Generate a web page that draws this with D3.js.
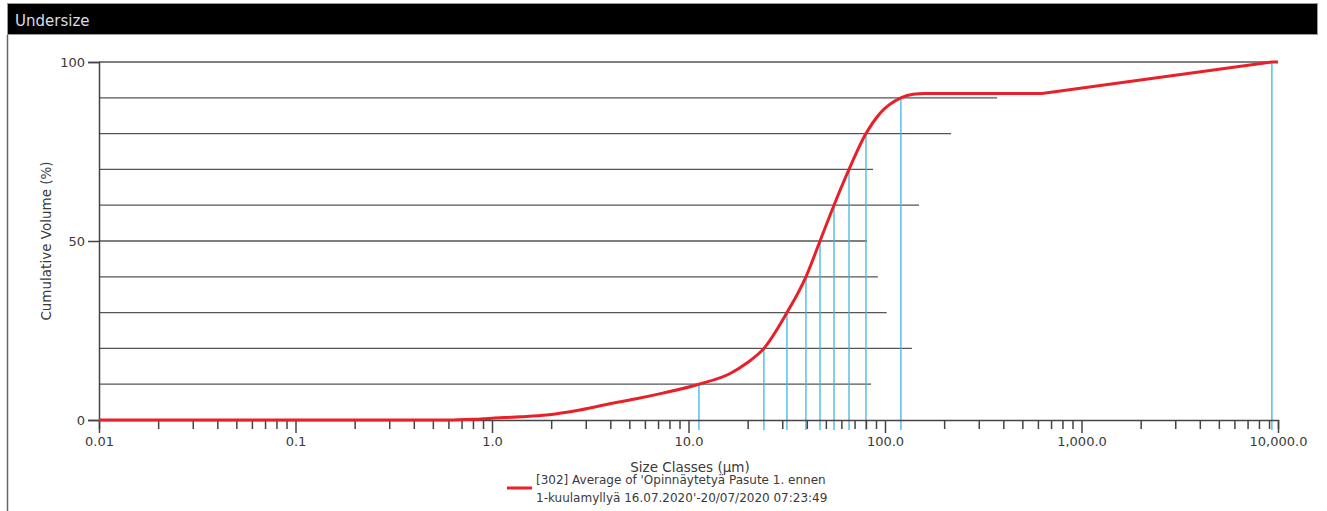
<!DOCTYPE html>
<html>
<head>
<meta charset="utf-8">
<script src="https://cdn.jsdelivr.net/npm/d3@7"></script>
<style>
  body { margin: 0; background: #fff; }
  text { font-family: "DejaVu Sans", sans-serif; fill: #3a3a3a; }
</style>
</head>
<body>
<script>
// Cumulative undersize curve (size in um, volume %)
var sizes  = [0.01, 0.1, 0.6, 0.8, 1.0, 1.4, 1.9, 2.8, 4.1, 5.5, 7.4, 11.3, 16.3, 19.9, 24.2, 31.7, 39.6, 46.7, 55.0, 65.6, 80.0, 94.4, 120.5, 138.8, 160, 629, 9310, 10000];
var volume = [0,    0,   0,   0.2, 0.5, 0.9, 1.4, 2.8, 4.7, 6.0, 7.5, 10,   13.0, 16.0, 20,   30,   40,   50,   60,   70,   80,   85.7, 90,    91.0,  91.2, 91.2, 100, 100];

// Percentile markers: level, size where curve crosses it, end of its leader line (um)
var pctLevels = [10, 20, 30, 40, 50, 60, 70, 80, 90, 100];
var pctSizes  = [11.3, 24.2, 31.7, 39.6, 46.7, 55.0, 65.6, 80.0, 120.5, 9310];
var pctEnds   = [85, 137, 102, 92, 81, 149, 87, 217, 372, 10000];

var xMajor = [0.01, 0.1, 1, 10, 100, 1000, 10000];
var xTickLabels = ["0.01", "0.1", "1.0", "10.0", "100.0", "1,000.0", "10,000.0"];
var yTicks = [0, 50, 100];

var titleText = "Undersize";
var xTitle = "Size Classes (\u00b5m)";
var yTitle = "Cumulative Volume (%)";
var legendLines = ["[302] Average of 'Opinn\u00e4ytety\u00e4 Pasute 1. ennen",
                   "1-kuulamylly\u00e4 16.07.2020'-20/07/2020 07:23:49"];

var svgWidth = 1327;
var svgHeight = 511;

var margin = { top: 62, right: 49, bottom: 91, left: 99 };
var chartWidth = svgWidth - margin.left - margin.right;
var chartHeight = svgHeight - margin.top - margin.bottom;

var svg = d3.select("body")
  .append("svg")
  .attr("width", svgWidth)
  .attr("height", svgHeight);

// title bar and frame
svg.append("rect")
  .attr("x", 7.5).attr("y", 3.5)
  .attr("width", 1310).attr("height", 31)
  .attr("fill", "#000")
  .attr("stroke", "#999");
svg.append("line")
  .attr("x1", 7.5).attr("x2", 7.5)
  .attr("y1", 35).attr("y2", svgHeight)
  .attr("stroke", "#666").attr("stroke-width", 1.5);
svg.append("text")
  .attr("x", 15).attr("y", 26)
  .style("font-size", "15px")
  .style("fill", "#d8dce4")
  .text(titleText);

var x = d3.scaleLog().domain([0.01, 10000]).range([0, chartWidth]);
var y = d3.scaleLinear().domain([0, 100]).range([chartHeight, 0]);

var g = svg.append("g")
  .attr("transform", "translate(" + margin.left + "," + margin.top + ")");

// leader lines for each percentile
g.selectAll(".leader")
  .data(pctLevels)
  .enter()
  .append("line")
  .attr("class", "leader")
  .attr("x1", 0)
  .attr("x2", function(d, i) { return x(pctEnds[i]); })
  .attr("y1", function(d) { return y(d); })
  .attr("y2", function(d) { return y(d); })
  .attr("stroke", "#555")
  .attr("stroke-width", 1.3);

// drop lines down to the size axis
g.selectAll(".drop")
  .data(pctLevels)
  .enter()
  .append("line")
  .attr("class", "drop")
  .attr("x1", function(d, i) { return x(pctSizes[i]); })
  .attr("x2", function(d, i) { return x(pctSizes[i]); })
  .attr("y1", function(d) { return y(d); })
  .attr("y2", chartHeight + 10)
  .attr("stroke", "#3db5e8")
  .attr("stroke-width", 1.3);

// axes
var minorTicks = [];
xMajor.forEach(function(m, i) {
  if (i < xMajor.length - 1) {
    for (var k = 1; k < 10; k++) minorTicks.push(m * k);
  }
});
minorTicks.push(10000);

function isMajor(d) {
  return xMajor.some(function(m) { return Math.abs(m - d) / m < 1e-6; });
}

var xAxis = d3.axisBottom(x)
  .tickValues(minorTicks)
  .tickSizeOuter(0)
  .tickSize(9)
  .tickFormat(function(d) {
    var i = xMajor.findIndex(function(m) { return Math.abs(m - d) / m < 1e-6; });
    return i >= 0 ? xTickLabels[i] : "";
  });

var xg = g.append("g")
  .attr("transform", "translate(0," + chartHeight + ")")
  .call(xAxis);
xg.selectAll(".tick line")
  .attr("y2", function(d) { return isMajor(d) ? 13 : 9; });
xg.selectAll(".tick text").attr("y", 17).style("font-size", "13px");

var yAxis = d3.axisLeft(y)
  .tickValues(yTicks)
  .tickSizeOuter(0)
  .tickSize(11)
  .tickPadding(3);
var yg = g.append("g").call(yAxis);
yg.selectAll(".tick text").style("font-size", "13px");

[xg, yg].forEach(function(a) {
  a.selectAll("path, line").attr("stroke", "#444").attr("stroke-width", 1.5);
  a.selectAll("text").style("fill", "#3a3a3a").style("font-family", "DejaVu Sans");
});

// curve: smooth part up to the plateau, straight tail after it
var pts = sizes.map(function(s, i) { return [s, volume[i]]; });
var knee = sizes.indexOf(629);

var smooth = d3.line()
  .x(function(d) { return x(d[0]); })
  .y(function(d) { return y(d[1]); })
  .curve(d3.curveMonotoneX);
var straight = d3.line()
  .x(function(d) { return x(d[0]); })
  .y(function(d) { return y(d[1]); });

g.append("path")
  .datum(pts.slice(0, knee + 1))
  .attr("fill", "none")
  .attr("stroke", "#e8202a")
  .attr("stroke-width", 3)
  .attr("stroke-linejoin", "round")
  .attr("d", smooth);
g.append("path")
  .datum(pts.slice(knee))
  .attr("fill", "none")
  .attr("stroke", "#e8202a")
  .attr("stroke-width", 3)
  .attr("stroke-linejoin", "round")
  .attr("d", straight);

// axis titles
svg.append("text")
  .attr("x", 690).attr("y", 472)
  .attr("text-anchor", "middle")
  .style("font-size", "13.5px")
  .text(xTitle);
svg.append("text")
  .attr("transform", "translate(51,241) rotate(-90)")
  .attr("text-anchor", "middle")
  .style("font-size", "13.5px")
  .text(yTitle);

// legend
svg.append("line")
  .attr("x1", 507).attr("x2", 532)
  .attr("y1", 488).attr("y2", 488)
  .attr("stroke", "#e8202a").attr("stroke-width", 3);
svg.selectAll(".legend")
  .data(legendLines)
  .enter()
  .append("text")
  .attr("class", "legend")
  .attr("x", 536)
  .attr("y", function(d, i) { return 484 + i * 18; })
  .style("font-size", "12px")
  .text(function(d) { return d; });
</script>
</body>
</html>
